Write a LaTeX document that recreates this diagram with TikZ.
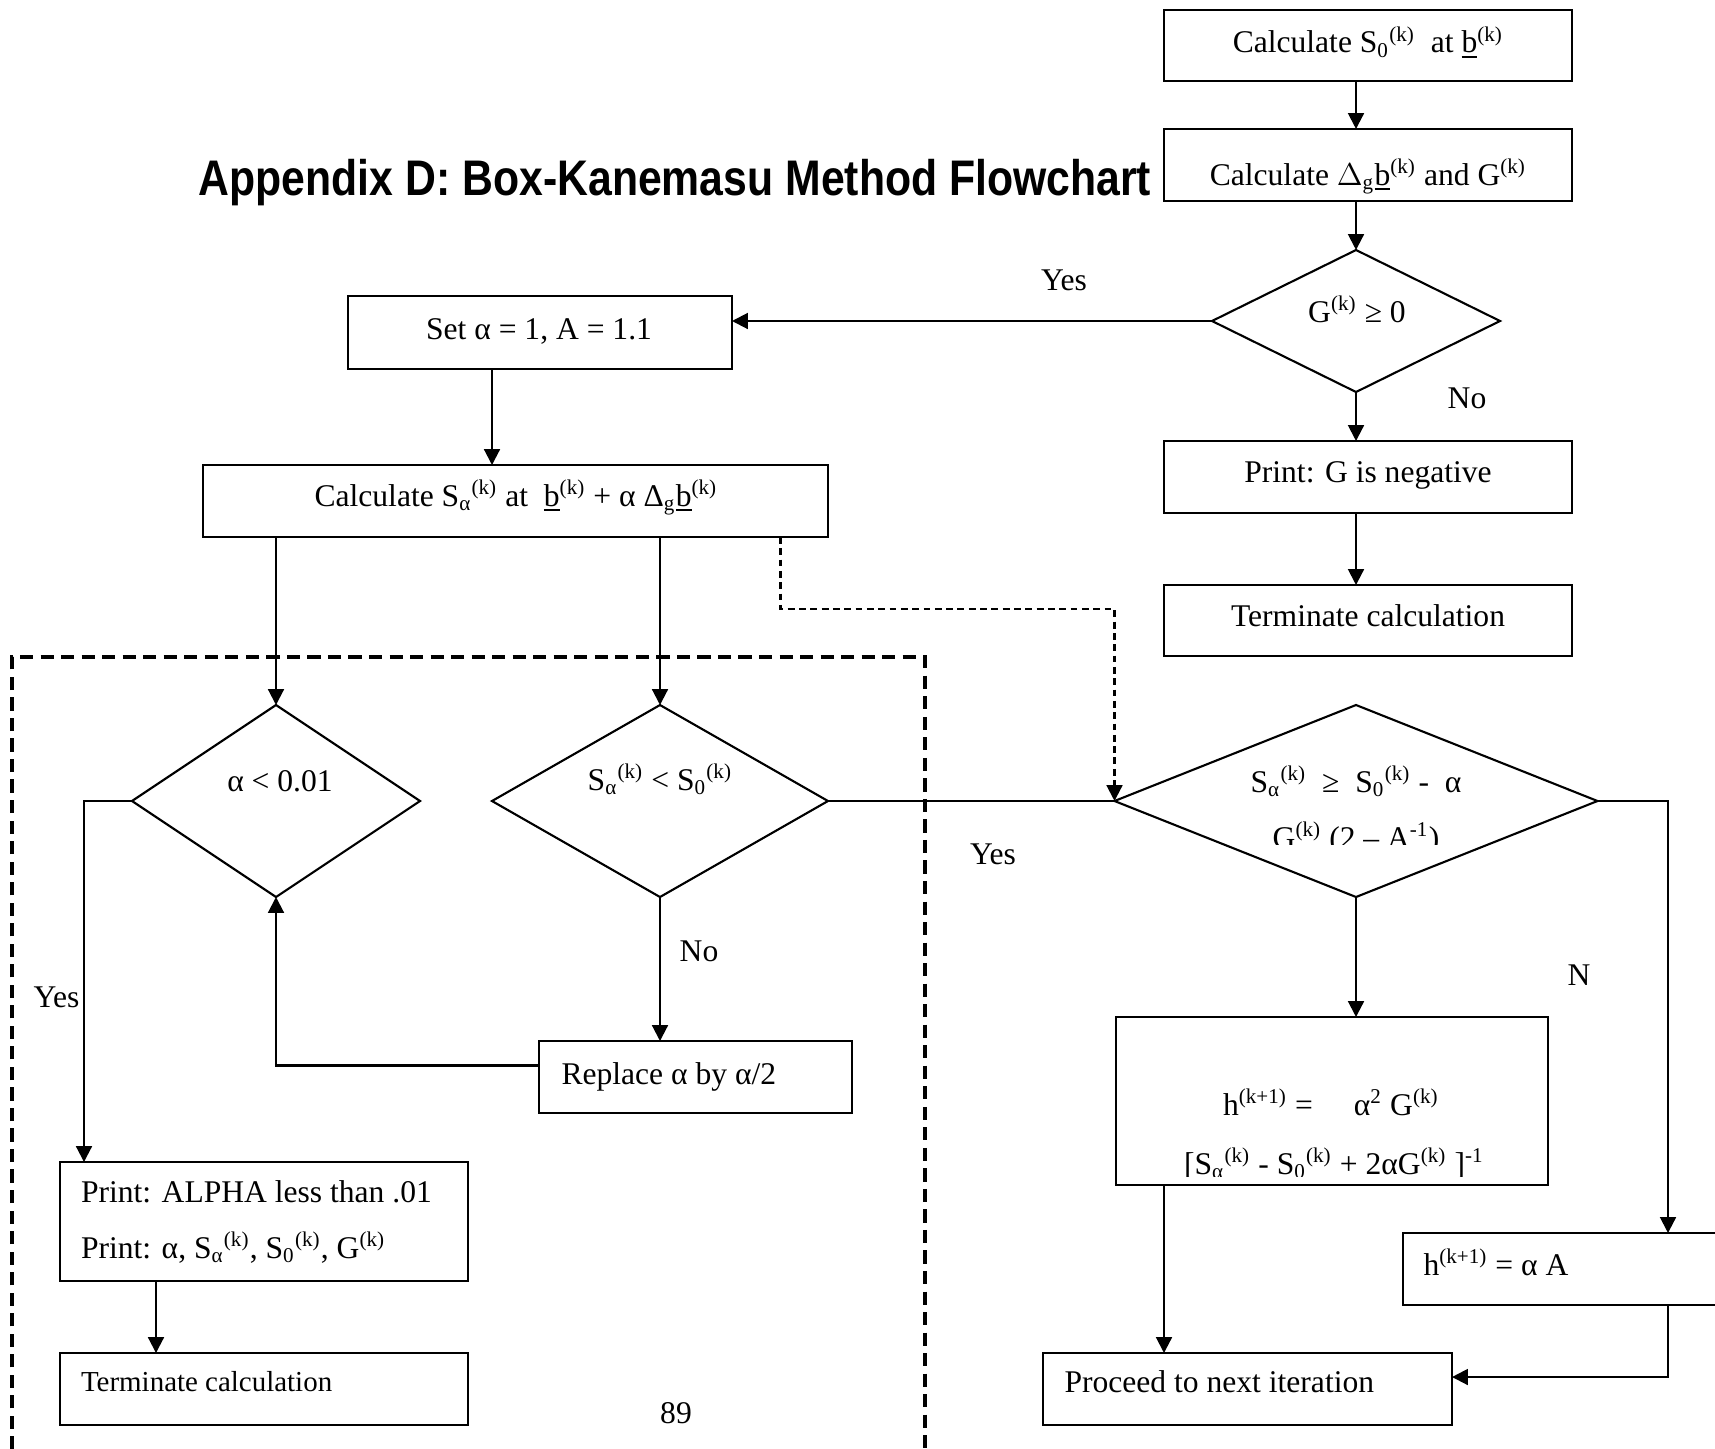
\documentclass[tikz,border=0pt]{standalone}
\usepackage{graphicx}
\usepackage{fontspec}
\setmainfont{Liberation Serif}
\newfontfamily\titlefont{Liberation Sans}
\usetikzlibrary{arrows.meta,shapes.geometric,calc}
\newcommand{\mkbox}[5]{%
  \pgfmathsetmacro{\mybw}{(#4-#2)*0.38}%
  \pgfmathsetmacro{\mybh}{(#5-#3)*0.38}%
  \node[box,minimum width=\mybw pt,minimum height=\mybh pt] (#1) at ({(#2+#4)/2},{(#3+#5)/2}) {};}
\newcommand{\mkdia}[5]{%
  \pgfmathsetmacro{\mybw}{#4*0.38}%
  \pgfmathsetmacro{\mybh}{#5*0.38}%
  \node[dia,minimum width=\mybw pt,minimum height=\mybh pt] (#1) at (#2,#3) {};}
\newcommand{\sk}{\textsuperscript{(k)}}
\begin{document}
\begin{tikzpicture}[x=0.38pt,y=-0.38pt,
  font=\fontsize{12}{14}\selectfont,
  box/.style={draw,line width=0.8pt,rectangle,inner sep=0pt,outer sep=0pt},
  dia/.style={draw,line width=0.8pt,diamond,inner sep=0pt,outer sep=0pt},
  line/.style={line width=0.8pt},
  arr/.style={line width=0.8pt,-{Triangle[length=6pt,width=6pt]}},
  dconn/.style={line width=0.8pt,dash pattern=on 2.6pt off 1.7pt,-{Triangle[length=6pt,width=6pt]}},
  frame/.style={line width=1.3pt,dash pattern=on 5pt off 2.8pt},
  txt/.style={inner sep=0pt,anchor=base},
  ltxt/.style={inner sep=0pt,anchor=base west},
]
\useasboundingbox (0,0) rectangle (1715,1448);

% boxes
\mkbox{b1}{1164}{10}{1572}{81}
\mkbox{b2}{1164}{129}{1572}{201}
\mkbox{bneg}{1164}{441}{1572}{513}
\mkbox{bterm}{1164}{585}{1572}{656}
\mkbox{bset}{348}{296}{732}{369}
\mkbox{bcalc}{203}{465}{828}{537}
\mkbox{brep}{539}{1041}{852}{1113}
\mkbox{bprint}{60}{1162}{468}{1281}
\mkbox{bterm2}{60}{1353}{468}{1425}
\mkbox{bh}{1116}{1017}{1548}{1185}
\mkbox{bha}{1403}{1233}{1745}{1305}
\mkbox{bproc}{1043}{1353}{1452}{1425}

% diamonds
\mkdia{d1}{1356}{321}{288}{142}
\mkdia{da}{276}{801}{288}{192}
\mkdia{ds}{660}{801}{336}{192}
\mkdia{d3}{1356}{801}{483}{192}

% helper coordinates
\coordinate (xA) at (492,0);
\coordinate (xD) at (780.5,0);
\coordinate (xR) at (1668,0);
\coordinate (xP) at (1164,0);
\coordinate (xL) at (84,0);
\coordinate (xT) at (156,0);
\coordinate (yQ) at (0,1377);
\coordinate (yR) at (0,1065.5);
\coordinate (yD) at (0,609);

% connectors
\draw[arr] (b1.south -| d1) -- (b2.north -| d1);
\draw[arr] (b2.south -| d1) -- (d1.north);
\draw[arr] (d1.west) -- (d1.west -| bset.east);
\draw[arr] (d1.south) -- (bneg.north -| d1);
\draw[arr] (bneg.south -| d1) -- (bterm.north -| d1);
\draw[arr] (bset.south -| xA) -- (bcalc.north -| xA);
\draw[arr] (bcalc.south -| da) -- (da.north);
\draw[arr] (bcalc.south -| ds) -- (ds.north);
\draw[dconn] (bcalc.south -| xD) -- (xD |- yD) -- (d3.west |- yD) -- (d3.west);
\draw[line] (ds.east) -- (d3.west);
\draw[arr] (d3.south) -- (bh.north -| d3);
\draw[arr] (d3.east) -- (d3.east -| xR) -- (bha.north -| xR);
\draw[arr] (bh.south -| xP) -- (bproc.north -| xP);
\draw[arr] (bha.south -| xR) -- (xR |- yQ) -- (bproc.east |- yQ);
\draw[arr] (ds.south) -- (brep.north -| ds);
\draw[arr] (brep.west |- yR) -- (da |- yR) -- (da.south);
\draw[arr] (da.west) -- (da.west -| xL) -- (bprint.north -| xL);
\draw[arr] (bprint.south -| xT) -- (bterm2.north -| xT);

% dashed frame
\draw[frame] (12,1470) -- (12,657) -- (925,657) -- (925,1470);

% title
\node[txt,font=\titlefont\bfseries\fontsize{19}{22}\selectfont] (title) at (675,195) {\scalebox{0.855}[1]{Appendix D: Box-Kanemasu Method Flowchart}};

% texts
\node[txt] (t1) at (1368,53) {Calculate S\textsubscript{0}\sk\ \ at \underline{b}\sk};
\node[txt] (t2) at (1368,185) {Calculate $\Delta$\textsubscript{g}\underline{b}\sk{} and G\sk};
\node[txt] (t3) at (1357,322) {G\sk{} ≥ 0};
\node[txt] (t4) at (539,339) {Set α = 1, A = 1.1};
\node[txt] (t5) at (516,506) {Calculate S\textsubscript{α}\sk{} at \ \underline{b}\sk{} + α Δ\textsubscript{g}\underline{b}\sk};
\node[txt] (t6) at (1368,482) {Print: G is negative};
\node[txt] (t7) at (1368,626) {Terminate calculation};
\node[txt] (t8) at (280,791) {α < 0.01};
\node[txt] (t9) at (660,790) {S\textsubscript{α}\sk{} < S\textsubscript{0}\sk};
\node[txt] (t10) at (1356,792) {S\textsubscript{α}\sk{} \ ≥ \ S\textsubscript{0}\sk{} - \ α};
\begin{scope}
\clip (1116,700) rectangle (1598,844);
\node[txt] (t11) at (1356,848) {G\sk{} (2 – A\textsuperscript{-1})};
\end{scope}
\node[txt] (t12) at (1331,1115) {h\textsuperscript{(k+1)} =\hspace{1.3em}α\textsuperscript{2} G\sk};
\begin{scope}
\clip (1116,1120) rectangle (1548,1176);
\node[txt] (t13) at (1334,1174) {[S\textsubscript{α}\sk{} - S\textsubscript{0}\sk{} + 2αG\sk{} ]\textsuperscript{-1}};
\end{scope}
\node[ltxt] (t14) at (1423,1275) {h\textsuperscript{(k+1)} = α A};
\node[ltxt] (t15) at (1064,1392) {Proceed to next iteration};
\node[ltxt] (t16) at (561,1084) {Replace α by α/2};
\node[ltxt] (t17) at (80.5,1202) {Print: ALPHA less than .01};
\node[ltxt] (t18) at (80.5,1258) {Print: α, S\textsubscript{α}\sk, S\textsubscript{0}\sk, G\sk};
\node[ltxt,font=\fontsize{11}{13}\selectfont] (t19) at (80.5,1391) {Terminate calculation};
\node[txt] (pg) at (676,1423) {89};

% branch labels
\node[txt] (l1) at (1064,290) {Yes};
\node[txt] (l2) at (1467,408) {No};
\node[txt] (l3) at (993,864) {Yes};
\node[txt] (l4) at (1579,985) {N};
\node[txt] (l5) at (699,961) {No};
\node[txt] (l6) at (56.5,1007) {Yes};
\end{tikzpicture}
\end{document}
